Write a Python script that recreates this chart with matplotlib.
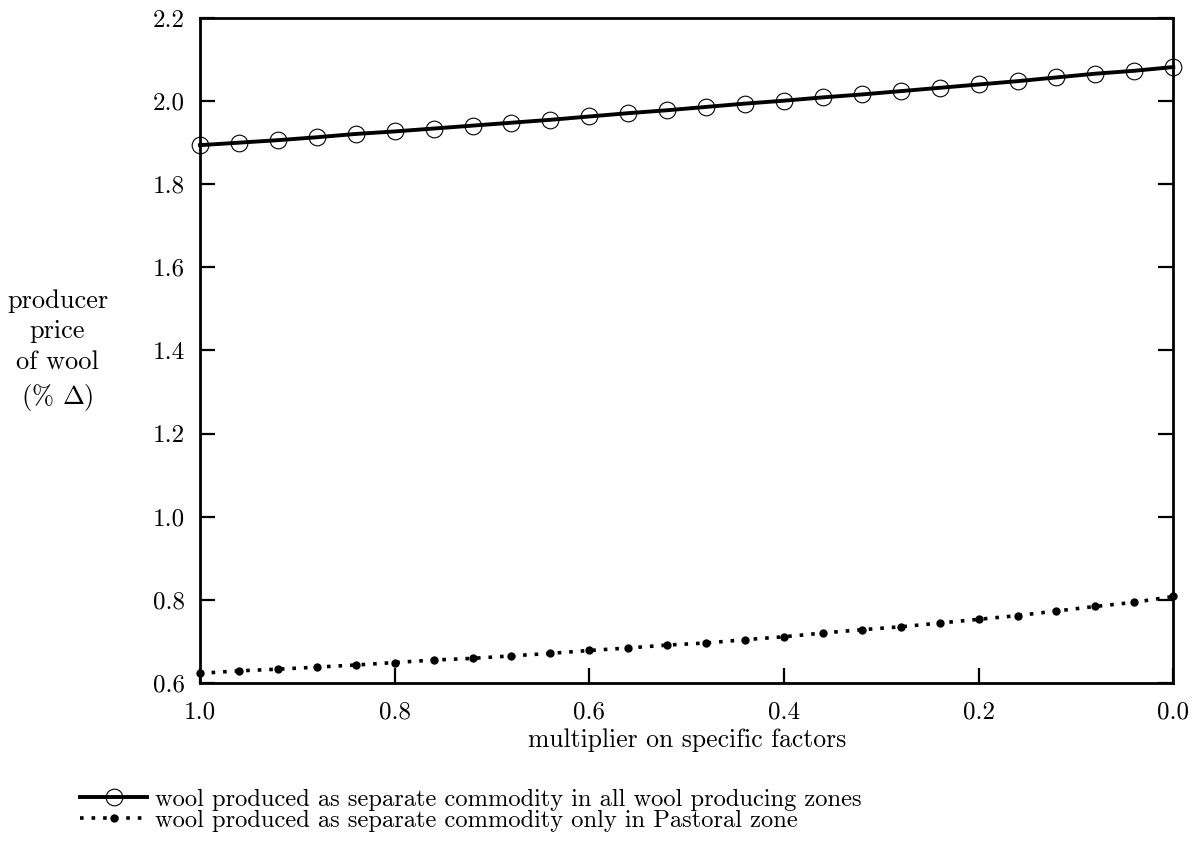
import matplotlib
matplotlib.use("Agg")
import matplotlib.pyplot as plt
import numpy as np

plt.rcParams["font.family"] = ["cmr10", "DejaVu Serif"]
plt.rcParams["mathtext.fontset"] = "cm"
plt.rcParams["axes.formatter.use_mathtext"] = True

# multiplier on specific factors, stepped from 1.0 down to 0.0
multiplier = [1.00, 0.96, 0.92, 0.88, 0.84, 0.80, 0.76, 0.72, 0.68, 0.64,
              0.60, 0.56, 0.52, 0.48, 0.44, 0.40, 0.36, 0.32, 0.28, 0.24,
              0.20, 0.16, 0.12, 0.08, 0.04, 0.00]

# producer price of wool (% change)
all_zones = [1.894, 1.900, 1.906, 1.913, 1.921, 1.927, 1.934, 1.941, 1.948, 1.955,
             1.963, 1.971, 1.978, 1.986, 1.994, 2.001, 2.009, 2.016, 2.024, 2.032,
             2.040, 2.048, 2.057, 2.066, 2.073, 2.082]
pastoral_only = [0.623, 0.629, 0.633, 0.638, 0.643, 0.649, 0.655, 0.659, 0.665, 0.671,
                 0.678, 0.684, 0.691, 0.696, 0.704, 0.711, 0.720, 0.728, 0.735, 0.744,
                 0.753, 0.762, 0.773, 0.784, 0.794, 0.808]

labels = [
    "wool produced as separate commodity in all wool producing zones",
    "wool produced as separate commodity only in Pastoral zone",
]

x_ticks = [1.0, 0.8, 0.6, 0.4, 0.2, 0.0]
y_ticks = [0.6, 0.8, 1.0, 1.2, 1.4, 1.6, 1.8, 2.0, 2.2]

fig = plt.figure(figsize=(12, 8.41), dpi=100)
ax = fig.add_axes([0.1667, 0.188, 0.811, 0.7906])

line_all, = ax.plot(multiplier, all_zones, color="black", lw=2.8, marker="o",
                    markersize=12, markerfacecolor="none", markeredgewidth=0.8,
                    clip_on=False, zorder=3)
line_past, = ax.plot(multiplier, pastoral_only, color="black", lw=2.6,
                     linestyle=(0, (1, 2.2)), marker="o", markersize=6,
                     markerfacecolor="black", markeredgewidth=0,
                     clip_on=False, zorder=3)

ax.set_xlim(1.0, 0.0)
ax.set_ylim(0.6, 2.2)
ax.set_xticks(x_ticks)
ax.set_xticklabels([f"{v:.1f}" for v in x_ticks])
ax.set_yticks(y_ticks)
ax.set_yticklabels([f"{v:.1f}" for v in y_ticks])

ax.tick_params(axis="both", direction="in", length=11, width=1.6,
               labelsize=18, right=True, top=False)
ax.tick_params(axis="y", pad=11)
ax.tick_params(axis="x", pad=13)
for spine in ax.spines.values():
    spine.set_linewidth(2.0)

ax.set_xlabel("multiplier on specific factors", fontsize=18.5, labelpad=4)

fig.text(0.048, 0.583, "producer\nprice\nof wool\n(% $\\Delta$)", fontsize=19,
         ha="center", va="center", linespacing=1.36)

# one legend box per series so the two rows sit close together
legend_kw = dict(loc="center left", frameon=False, fontsize=17.6,
                 handlelength=2.75, handletextpad=0.3, borderpad=0,
                 borderaxespad=0, numpoints=1)
fig.legend([line_all], [labels[0]], bbox_to_anchor=(0.0667, 0.0488), **legend_kw)
fig.legend([line_past], [labels[1]], bbox_to_anchor=(0.0667, 0.0238), **legend_kw)

fig.savefig("out.png", dpi=100)
plt.close(fig)
